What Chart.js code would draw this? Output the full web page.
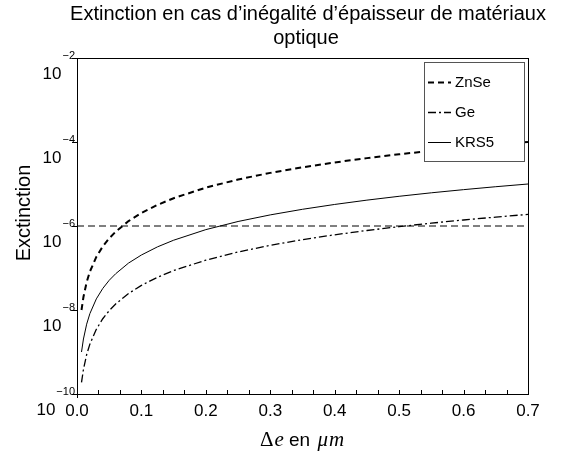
<!DOCTYPE html>
<html>
<head>
<meta charset="utf-8">
<script src="https://cdn.jsdelivr.net/npm/chart.js@4.4.1/dist/chart.umd.min.js"></script>
<style>
  html, body { margin: 0; padding: 0; background: #fff; }
  #graf { display: block; }
</style>
</head>
<body>
<canvas id="graf" width="571" height="455"></canvas>
<script>
// ===== DONNÉES =====
const epaisseur = [0.007, 0.01, 0.015, 0.02, 0.03, 0.04, 0.05, 0.06, 0.08, 0.1, 0.125, 0.15,
  0.2, 0.25, 0.3, 0.35, 0.4, 0.45, 0.5, 0.55, 0.6, 0.65, 0.7];
const extZnSe = [1.0e-8, 2.04e-8, 4.6e-8, 8.2e-8, 1.84e-7, 3.26e-7, 5.1e-7, 7.3e-7, 1.31e-6, 2.04e-6,
  3.19e-6, 4.59e-6, 8.2e-6, 1.28e-5, 1.84e-5, 2.5e-5, 3.26e-5, 4.13e-5, 5.1e-5, 6.17e-5, 7.34e-5, 8.62e-5, 1.0e-4];
const extGe = [1.89e-10, 3.86e-10, 8.7e-10, 1.54e-9, 3.47e-9, 6.2e-9, 9.65e-9, 1.39e-8, 2.47e-8, 3.86e-8,
  6.03e-8, 8.7e-8, 1.54e-7, 2.41e-7, 3.47e-7, 4.73e-7, 6.18e-7, 7.82e-7, 9.65e-7, 1.17e-6, 1.39e-6, 1.63e-6, 1.89e-6];
const extKRS5 = [1.0e-9, 2.04e-9, 4.6e-9, 8.2e-9, 1.84e-8, 3.26e-8, 5.1e-8, 7.3e-8, 1.31e-7, 2.04e-7,
  3.19e-7, 4.59e-7, 8.2e-7, 1.28e-6, 1.84e-6, 2.5e-6, 3.26e-6, 4.13e-6, 5.1e-6, 6.17e-6, 7.34e-6, 8.62e-6, 1.0e-5];
const seuilX = [0, 0.7];
const seuilY = [1e-6, 1e-6];
const xTicks = [0, 0.1, 0.2, 0.3, 0.4, 0.5, 0.6, 0.7];
const xTickLabels = ['0.0', '0.1', '0.2', '0.3', '0.4', '0.5', '0.6', '0.7'];
const yExposants = [-2, -4, -6, -8, -10];
const yTickLabels = ['\u22122', '\u22124', '\u22126', '\u22128', '\u221210'];
const nomsSeries = ['ZnSe', 'Ge', 'KRS5'];

const SANS = '"Liberation Sans", Arial, sans-serif';
const SERIF = '"Liberation Serif", "DejaVu Serif", serif';

function pts(xs, ys) { return xs.map((x, i) => ({ x: x, y: ys[i] })); }

// ===== DESSIN DES AXES, TITRES ET LÉGENDE =====
const decor = {
  id: 'decor',
  afterDatasetsDraw(chart) {
    const c = chart.ctx, a = chart.chartArea;
    const sx = chart.scales.x, sy = chart.scales.y;
    c.save();
    c.strokeStyle = '#000';
    c.lineWidth = 1;
    c.setLineDash([]);
    c.strokeRect(Math.round(a.left) + 0.5, Math.round(a.top) + 0.5, Math.round(a.right - a.left), Math.round(a.bottom - a.top));

    // graduations x (mineures tous les 1/30)
    c.beginPath();
    for (let k = 0; k <= 21; k++) {
      const px = Math.round(sx.getPixelForValue(k * 0.7 / 21)) + 0.5;
      c.moveTo(px, a.bottom);
      c.lineTo(px, a.bottom - 4);
    }
    c.moveTo(Math.round(a.left) + 0.5, a.bottom);
    c.lineTo(Math.round(a.left) + 0.5, a.bottom + 4);
    c.stroke();
    c.fillStyle = '#000';
    c.font = '17px ' + SANS;
    c.textAlign = 'center';
    c.textBaseline = 'alphabetic';
    xTicks.forEach((v, i) => {
      c.fillText(xTickLabels[i], sx.getPixelForValue(v), a.bottom + 22);
    });

    // graduations y
    c.beginPath();
    yExposants.forEach(e => {
      const py = Math.round(sy.getPixelForValue(Math.pow(10, e))) + 0.5;
      c.moveTo(a.left - 5, py);
      c.lineTo(a.left, py);
    });
    c.stroke();
    yExposants.forEach((e, i) => {
      const py = sy.getPixelForValue(Math.pow(10, e));
      c.font = '11px ' + SANS;
      c.textAlign = 'right';
      c.textBaseline = 'middle';
      const expo = yTickLabels[i];
      c.fillText(expo, a.left - 2, py - 2);
      const w = c.measureText(expo).width;
      c.font = '17px ' + SANS;
      c.fillText('10', a.left - 3 - w, py + 16);
    });

    // légende
    const lg = { x: 424.5, y: 62.5, w: 100, h: 99 };
    c.fillStyle = '#fff';
    c.fillRect(lg.x, lg.y, lg.w, lg.h);
    c.strokeStyle = '#555';
    c.strokeRect(lg.x, lg.y, lg.w, lg.h);
    const lignesY = [82, 112, 142];
    chart.data.datasets.slice(0, 3).forEach((ds, i) => {
      c.strokeStyle = ds.borderColor;
      c.lineWidth = ds.borderWidth;
      c.setLineDash(ds.borderDash || []);
      c.beginPath();
      c.moveTo(428, lignesY[i] + 0.5);
      c.lineTo(451, lignesY[i] + 0.5);
      c.stroke();
      c.setLineDash([]);
      c.fillStyle = '#000';
      c.font = '15px ' + SANS;
      c.textAlign = 'left';
      c.textBaseline = 'middle';
      c.fillText(ds.label, 455, lignesY[i] + 1);
    });

    // titre
    c.fillStyle = '#000';
    c.font = '20px ' + SANS;
    c.textAlign = 'center';
    c.textBaseline = 'alphabetic';
    c.fillText('Extinction en cas d\u2019inégalité d\u2019épaisseur de matériaux', 308, 20);
    c.fillText('optique', 306, 44);

    // titre axe y
    c.save();
    c.translate(30, 213);
    c.rotate(-Math.PI / 2);
    c.font = '20px ' + SANS;
    c.textBaseline = 'alphabetic';
    c.fillText('Exctinction', 0, 0);
    c.restore();

    // titre axe x : Δe en μm
    const morceaux = [
      ['\u0394', '21px ' + SERIF, 1],
      ['e', 'italic 21px ' + SERIF, 0],
      [' en ', '19px ' + SANS, 2],
      ['\u03bc', 'italic 21px ' + SERIF, 1],
      ['m', 'italic 21px ' + SERIF, 0]
    ];
    let total = 0;
    morceaux.forEach(m => { c.font = m[1]; total += c.measureText(m[0]).width + m[2]; });
    let px = 302 - total / 2;
    c.textAlign = 'left';
    morceaux.forEach(m => {
      c.font = m[1];
      c.fillText(m[0], px, 446);
      px += c.measureText(m[0]).width + m[2];
    });
    c.restore();
  }
};

new Chart(document.getElementById('graf'), {
  type: 'line',
  data: {
    datasets: [
      { label: nomsSeries[0], data: pts(epaisseur, extZnSe), borderColor: '#000', borderWidth: 2, borderDash: [6, 4] },
      { label: nomsSeries[1], data: pts(epaisseur, extGe), borderColor: '#000', borderWidth: 1.3, borderDash: [8, 3, 2, 3] },
      { label: nomsSeries[2], data: pts(epaisseur, extKRS5), borderColor: '#000', borderWidth: 1 },
      { label: 'seuil', data: pts(seuilX, seuilY), borderColor: '#000', borderWidth: 1, borderDash: [7, 4] }
    ]
  },
  options: {
    responsive: false,
    animation: false,
    devicePixelRatio: 1,
    elements: { point: { radius: 0 }, line: { tension: 0, fill: false } },
    layout: { padding: { left: 0, top: 58, right: 43, bottom: 0 } },
    plugins: { legend: { display: false }, title: { display: false }, tooltip: { enabled: false } },
    scales: {
      x: {
        type: 'linear', min: 0, max: 0.7,
        grid: { display: false, drawTicks: false },
        border: { display: false },
        ticks: { display: false },
        afterFit(s) { s.height = 61; }
      },
      y: {
        type: 'logarithmic', min: 1e-10, max: 1e-2,
        grid: { display: false, drawTicks: false },
        border: { display: false },
        ticks: { display: false },
        afterFit(s) { s.width = 77; }
      }
    }
  },
  plugins: [decor]
});
</script>
</body>
</html>
